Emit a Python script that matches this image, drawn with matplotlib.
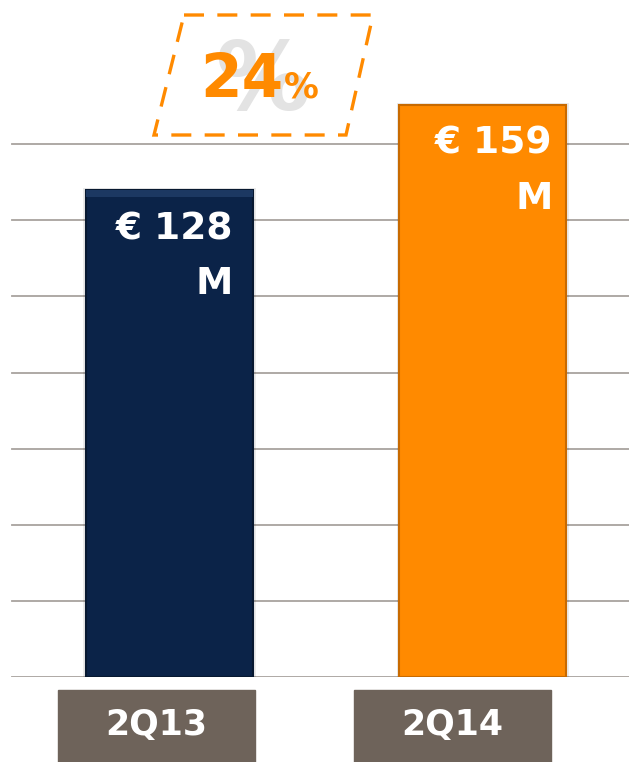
import matplotlib.pyplot as plt
from matplotlib.patches import Polygon, Rectangle
import numpy as np

# data
quarters = ['2Q13', '2Q14']
revenue = [128, 159]
value_labels = ['€ 128\nM', '€ 159\nM']
growth_label = '24'
bar_colors = ['#0B2348', '#FF8A00']
edge_colors = ['#071830', '#C86A00']

W, H = 629, 762
fig = plt.figure(figsize=(W / 100, H / 100), dpi=100)

# axes: baseline sits at y=677 px from top, full width
base_px = 677
ax = fig.add_axes([0, (H - base_px) / H, 1, base_px / H])
ax.set_axis_off()

# value scale (bars don't start at zero in the original)
y_bottom = -49.6
px_per_unit = 487 / (revenue[0] - y_bottom)
ax.set_ylim(y_bottom, y_bottom + base_px / px_per_unit)

# x scale: categories 0,1 separated by 313.5 px, first at 169.5 px
step = 313.5
ax.set_xlim(-169.5 / step, (W - 169.5) / step)
bw = 167 / step

# gridlines every 76 px
grid_step = 76.1 / px_per_unit
for k in range(0, 8):
    ax.axhline(y_bottom + k * grid_step, xmin=12 / W, xmax=1, color='#A8A39E',
               lw=1.3, zorder=1)

x = np.arange(len(quarters))
bars = ax.bar(x, np.array(revenue) - y_bottom, bottom=y_bottom, width=bw,
              color=bar_colors, edgecolor=edge_colors, linewidth=1.5, zorder=3)

# soft shadow on the bars
for xi, v in zip(x, revenue):
    ax.add_patch(Rectangle((xi - bw / 2 - 0.008, y_bottom), bw + 0.016,
                           v - y_bottom + 0.6, color='#000000', alpha=0.08, lw=0, zorder=2))

# subtle top bevel on the navy bar
ax.add_patch(Rectangle((x[0] - bw / 2, revenue[0] - 2.5), bw, 2.5,
                       color='#1C3862', lw=0, zorder=4))

# value labels inside the bars
pads = [20, 14]
for xi, v, lab, p in zip(x, revenue, value_labels, pads):
    ax.text(xi + (167 / 2 - p) / step, v - 21 / px_per_unit, lab, ha='right', va='top',
            color='white', fontsize=27, fontweight='bold', linespacing=1.68, zorder=5)

# category boxes under the axis
box_left = [58, 354]
for left, q in zip(box_left, quarters):
    fig.patches.append(Rectangle((left / W, 0), 197 / W, (H - 690) / H,
                                 transform=fig.transFigure, color='#6E635A', zorder=1))
    fig.text((left + 98.5) / W, (H - 725) / H, q, ha='center', va='center',
             color='white', fontsize=25, fontweight='bold')

# growth badge: dashed parallelogram
verts = [(184, 15), (373, 15), (346, 135), (154, 135)]
poly = Polygon([(vx / W, (H - vy) / H) for vx, vy in verts], closed=True,
               transform=fig.transFigure, fill=False, edgecolor='#FF8A00',
               lw=2.4, linestyle=(0, (6, 4)))
fig.patches.append(poly)

fig.text(263 / W, (H - 110) / H, '%', ha='center', va='baseline', color='#E3E3E3',
         fontsize=68, fontweight='bold')
fig.text(283 / W, (H - 97) / H, growth_label, ha='right', va='baseline', color='#FF8A00',
         fontsize=43, fontweight='bold')
fig.text(284 / W, (H - 97) / H, '%', ha='left', va='baseline', color='#FF8A00',
         fontsize=25, fontweight='bold')

fig.savefig('out.png', dpi=100)
